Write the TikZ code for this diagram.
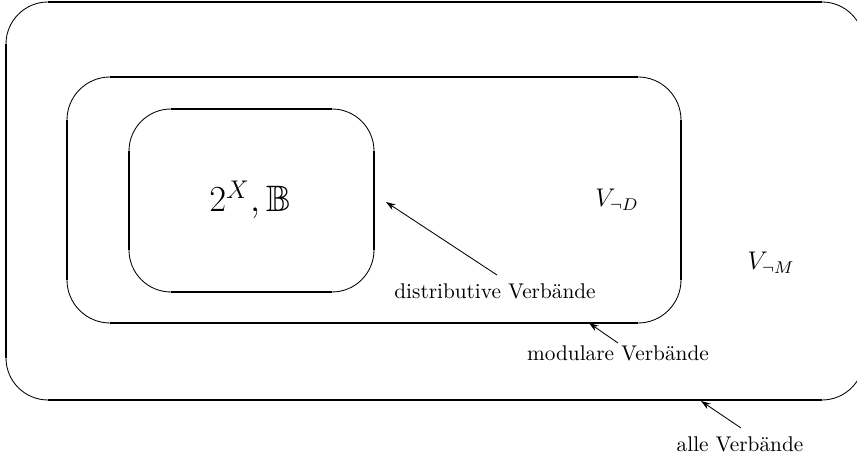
\documentclass[tikz,border=0pt]{standalone}
\usepackage{amssymb}
\usetikzlibrary{arrows.meta}
\tikzset{
  edge/.style={line width=0.8pt},
  corner/.style={line width=0.4pt},
  pointer/.style={line width=0.4pt,-{Stealth[length=4.5pt,width=3pt]}},
  lbl/.style={anchor=base,inner sep=0pt,font=\normalsize},
}
\newcommand\roundframe[5]{%
  \draw[edge] ({#1+#5},#2) -- ({#3-#5},#2);
  \draw[edge] ({#1+#5},#4) -- ({#3-#5},#4);
  \draw[edge] (#1,{#2+#5}) -- (#1,{#4-#5});
  \draw[edge] (#3,{#2+#5}) -- (#3,{#4-#5});
  \draw[corner] ({#3-#5},#4) arc[start angle=90,end angle=0,radius=#5];
  \draw[corner] (#1,{#4-#5}) arc[start angle=180,end angle=90,radius=#5];
  \draw[corner] ({#1+#5},#2) arc[start angle=270,end angle=180,radius=#5];
  \draw[corner] (#3,{#2+#5}) arc[start angle=0,end angle=-90,radius=#5];
}
\begin{document}
\begin{tikzpicture}[x=0.47pt,y=0.47pt]
\useasboundingbox (0,0) rectangle (857,460);
\clip (0,0) rectangle (857,460);
% boxes
\roundframe{6}{60}{864}{458}{42}
\roundframe{67}{137}{681}{383}{43}
\roundframe{129}{168}{374}{351}{42}
% texts
\node[lbl,font=\LARGE] (pow) at (250,248) {$2^X,\mathbb{B}$};
\node[lbl,font=\large] (vd) at (617,253) {$V_{\neg D}$};
\node[lbl,font=\large] (vm) at (771,190) {$V_{\neg M}$};
\node[lbl] (dist) at (495,161) {distributive Verbände};
\node[lbl] (mod) at (618,99) {modulare Verbände};
\node[lbl] (alle) at (740,8) {alle Verbände};
% arrow ends
\coordinate (ds) at (497,185);
\coordinate (de) at (386,258);
\coordinate (ms) at (618,117);
\coordinate (me) at (589,137);
\coordinate (as) at (741,32);
\coordinate (ae) at (701,59);
\draw[pointer] (ds) -- (de);
\draw[pointer] (ms) -- (me);
\draw[pointer] (as) -- (ae);
\end{tikzpicture}
\end{document}
